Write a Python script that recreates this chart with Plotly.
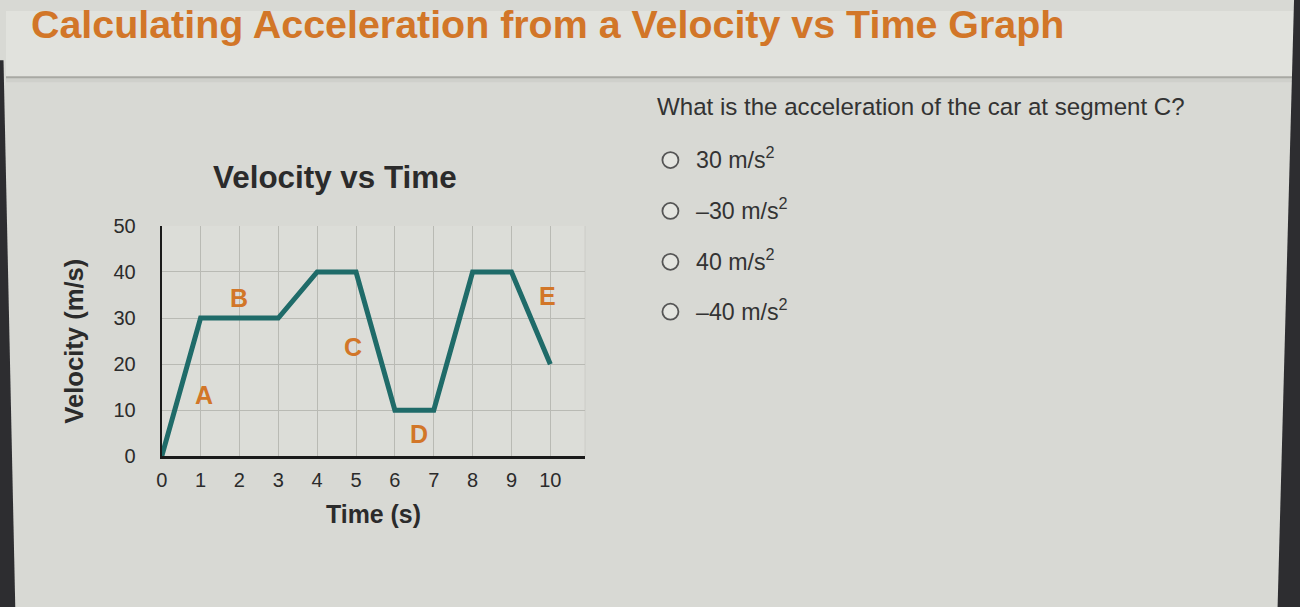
import plotly.graph_objects as go

# ---- data ----
time_s = [0, 1, 3, 4, 5, 6, 7, 8, 9, 10]
velocity = [0, 30, 30, 40, 40, 10, 10, 40, 40, 20]
x_ticks = [0, 1, 2, 3, 4, 5, 6, 7, 8, 9, 10]
y_ticks = [0, 10, 20, 30, 40, 50]
seg_names = ["A", "B", "C", "D", "E"]
seg_x = [1.08, 1.99, 4.92, 6.62, 9.92]
seg_y = [13.4, 34.4, 23.8, 4.8, 34.8]
answers = ["30", "\u201330", "40", "\u201340"]

W, H = 1300, 607
BG = "#d8d9d4"
INK = "#2b2b2b"
ORANGE = "#d27628"
TEAL = "#1f6b69"
FONT = "Liberation Sans, Arial"

# the figure lands on screen slightly shrunk and offset; place items so
# they end up at the intended screen pixel positions
SX, OX = 0.994, 5.5
SY, OY = 0.966, 10.6

def px(x):   # target screen x -> paper fraction
    return ((x - OX) / SX) / W

def py(y):   # target screen y -> paper fraction
    return 1 - ((y - OY) / SY) / H

fig = go.Figure()
fig.add_trace(go.Scatter(
    x=time_s, y=velocity, mode="lines",
    line=dict(color=TEAL, width=5), hoverinfo="skip", showlegend=False,
))

shapes = []
# header band
shapes.append(dict(type="rect", xref="paper", yref="paper", x0=0, x1=1,
                   y0=py(77), y1=1, fillcolor="#e1e2dd", line=dict(width=0), layer="below"))
shapes.append(dict(type="rect", xref="paper", yref="paper", x0=0, x1=1,
                   y0=py(82), y1=py(77), fillcolor="#cfd0cb", line=dict(width=0), layer="below"))
shapes.append(dict(type="line", xref="paper", yref="paper", x0=0, x1=1,
                   y0=py(77), y1=py(77), line=dict(color="#a8a9a3", width=2)))
# right edge of grid
shapes.append(dict(type="line", xref="x", yref="y", x0=10.9, x1=10.9, y0=0, y1=50,
                   line=dict(color="#b9bab4", width=1), layer="below"))
# dark screen borders
shapes.append(dict(type="path", xref="paper", yref="paper",
                   path=f"M {px(-10)} {py(60)} L {px(3)} {py(60)} L {px(15)} {py(620)} L {px(-10)} {py(620)} Z",
                   fillcolor="#2d2d30", line=dict(width=0)))
shapes.append(dict(type="path", xref="paper", yref="paper",
                   path=f"M {px(1292)} {py(-10)} L {px(1320)} {py(-10)} L {px(1320)} {py(620)} L {px(1275)} {py(620)} Z",
                   fillcolor="#2d2d30", line=dict(width=0)))

annotations = []
annotations.append(dict(text="<b>Calculating Acceleration from a Velocity vs Time Graph</b>",
                        x=px(28), y=py(24), xref="paper", yref="paper",
                        xanchor="left", yanchor="middle", showarrow=False,
                        font=dict(family=FONT, size=39.4, color=ORANGE)))
annotations.append(dict(text="<b>Velocity vs Time</b>", x=px(334), y=py(177.5),
                        xref="paper", yref="paper", xanchor="center", yanchor="middle",
                        showarrow=False,
                        font=dict(family=FONT, size=31.4, color=INK)))
annotations.append(dict(text="What is the acceleration of the car at segment C?",
                        x=px(654), y=py(106), xref="paper", yref="paper",
                        xanchor="left", yanchor="middle", showarrow=False,
                        font=dict(family=FONT, size=24.1, color="#333333")))
opt_y = [160, 211, 262, 312]
for a, yy in zip(answers, opt_y):
    annotations.append(dict(text=f"{a} m/s<sup>2</sup>", x=px(693), y=py(yy - 1.6),
                            xref="paper", yref="paper", xanchor="left", yanchor="middle",
                            showarrow=False,
                            font=dict(family=FONT, size=23.2, color="#333333")))
    r = 8
    shapes.append(dict(type="circle", xref="paper", yref="paper",
                       x0=px(669 - r), x1=px(669 + r), y0=py(yy + r), y1=py(yy - r),
                       line=dict(color="#555555", width=1.8), fillcolor="#e4e5e0"))
for n, xx, yy in zip(seg_names, seg_x, seg_y):
    annotations.append(dict(text=f"<b>{n}</b>", x=xx, y=yy, xref="x", yref="y",
                            showarrow=False,
                            font=dict(family=FONT, size=25, color=ORANGE)))

fig.update_layout(
    width=W, height=H, margin=dict(l=0, r=0, t=0, b=0),
    paper_bgcolor=BG, plot_bgcolor="#dcddd8",
    shapes=shapes, annotations=annotations,
    xaxis=dict(domain=[px(161), px(584)], range=[0, 10.9], tickvals=x_ticks,
               showgrid=True, gridcolor="#b9bab4", gridwidth=1, zeroline=False,
               showline=True, linecolor="#1a1a1a", linewidth=3,
               tickfont=dict(family=FONT, size=20, color=INK),
               ticks="", ticklabelstandoff=4,
               title=dict(text="<b>Time (s)</b>", standoff=16,
                          font=dict(family=FONT, size=24.9, color=INK)),
               fixedrange=True),
    yaxis=dict(domain=[py(457), py(226)], range=[0, 50], tickvals=y_ticks,
               showgrid=True, gridcolor="#b9bab4", gridwidth=1, zeroline=False,
               showline=True, linecolor="#1a1a1a", linewidth=2,
               tickfont=dict(family=FONT, size=20, color=INK),
               ticks="", ticklabelstandoff=20,
               title=dict(text="<b>Velocity (m/s)</b>", standoff=23,
                          font=dict(family=FONT, size=25.6, color=INK)),
               fixedrange=True),
)

fig.write_html("out.html")
